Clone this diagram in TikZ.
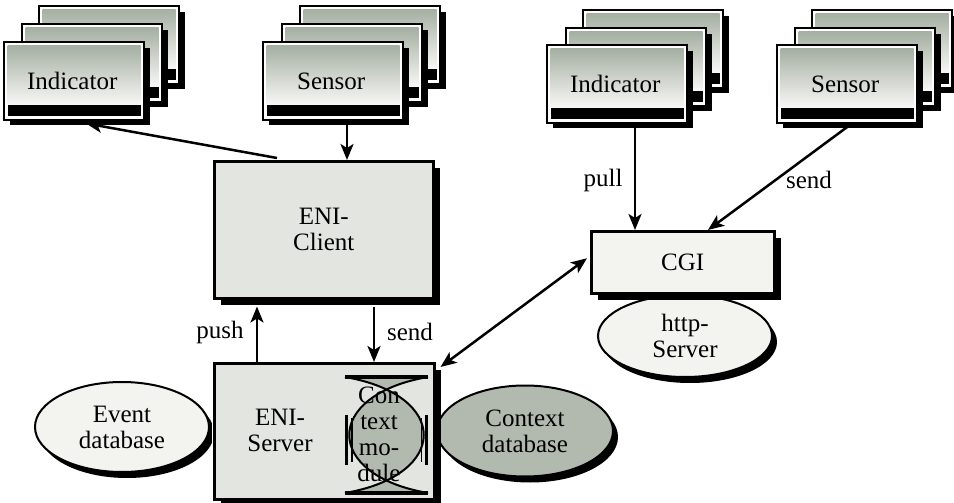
\documentclass[tikz,border=0pt]{standalone}
\usepackage{fontspec}
\setmainfont{Liberation Serif}
\usetikzlibrary{arrows.meta,calc,shapes.geometric,shadows}
\definecolor{boxgray}{HTML}{E3E5E0}
\definecolor{paleg}{HTML}{F3F4EF}
\definecolor{ctxg}{HTML}{B2BAB0}
\definecolor{cardtop}{HTML}{A5AFA2}
\definecolor{cardbot}{HTML}{F8F8F6}
\newcommand\cardshape[2]{%
  \fill[black] (#1+6,#2+6) rectangle (#1+146,#2+83);
  \filldraw[fill=white,draw=black,line width=1.8] (#1,#2) rectangle (#1+140,#2+78);
  \shade[top color=cardtop,bottom color=cardbot] (#1+3.5,#2+3.5) rectangle (#1+136.5,#2+63);
  \fill[black] (#1+3.5,#2+63) rectangle (#1+136.5,#2+74);
}
\begin{document}
\begin{tikzpicture}[x=1pt,y=-1pt,
  txt/.style={font=\fontsize{25}{26}\selectfont, align=center, inner sep=0pt},
  cardnode/.style={txt, anchor=north west, minimum width=136, minimum height=78},
  boxnode/.style={txt, anchor=north west, draw=black, line width=2.5, fill=boxgray,
    drop shadow={shadow xshift=7pt,shadow yshift=-7pt,fill=black,opacity=1},
    preaction={draw=white,line width=4}},
  ellnode/.style={txt, ellipse, draw=black, line width=2,
    drop shadow={shadow xshift=5pt,shadow yshift=-6pt,fill=black,opacity=1}},
  lbl/.style={txt},
  arr/.style={line width=2.5, -{Stealth[length=16,width=13,inset=4]}},
  darr/.style={line width=2.5, {Stealth[length=16,width=13,inset=4]}-{Stealth[length=16,width=13,inset=4]}},
]
\useasboundingbox (0,0) rectangle (954,503);
\clip (0,0) rectangle (954,503);

% left indicator stack
\cardshape{39}{6}\cardshape{22}{24}\cardshape{4}{42}
\node[cardnode] (indLc) at (4,42) {Indicator};
% left sensor stack
\cardshape{300}{6}\cardshape{282}{24}\cardshape{263}{42}
\node[cardnode] (senLc) at (263,42) {Sensor};
% right indicator stack
\cardshape{583}{10}\cardshape{566}{28}\cardshape{547}{45}
\node[cardnode] (indRc) at (547,45) {Indicator};
% right sensor stack
\cardshape{812}{10}\cardshape{795}{28}\cardshape{777}{45}
\node[cardnode] (senRc) at (777,45) {Sensor};

% ENI-Client
\node[boxnode, minimum width=219, minimum height=137] (client) at (213,160) {ENI-\\Client};

% ellipses
\node[ellnode, fill=paleg, minimum width=174, minimum height=90] (eventdb) at (122,427) {Event\\database};
\node[ellnode, fill=ctxg, minimum width=176, minimum height=91] (ctxdb) at (525,431) {Context\\database};
\node[ellnode, fill=paleg, minimum width=174, minimum height=82] (http) at (685,336) {http-\\Server};

% CGI
\node[boxnode, fill=paleg, minimum width=183, minimum height=62] (cgi) at (590,230) {CGI};

% ENI-Server
\node[boxnode, minimum width=220, minimum height=136] (server) at (213,362) {};
\node[txt] (servertxt) at (280,430) {ENI-\\Server};

% context module
\fill[ctxg] (345,377) .. controls (450,395) and (450,475) .. (345,493)
  -- (428,493) .. controls (323,475) and (323,395) .. (428,377) -- cycle;
\draw[line width=2] (345,377) .. controls (450,395) and (450,475) .. (345,493);
\draw[line width=2] (428,377) .. controls (323,395) and (323,475) .. (428,493);
\draw[line width=3.5] (345,377) -- (428,377);
\draw[line width=3.5] (345,493) -- (428,493);
\draw[line width=3] (346.5,415) -- (346.5,465);
\draw[line width=1.5] (352,418) -- (352,462);
\draw[line width=3] (426.5,415) -- (426.5,465);
\draw[line width=1.5] (421.5,418) -- (421.5,462);
\node[txt] (ctxmod) at (379,434) {Con\\text\\mo-\\dule};

% labels
\node[lbl] (lpush) at (220,332) {push};
\node[lbl] (lsend) at (410,332) {send};
\node[lbl] (lpull) at (603,180) {pull};
\node[lbl] (lsend2) at (809,180) {send};

% connectors
\draw[arr] ($(senLc.south west)+(84,4)$) -- ($(client.north west)+(134,0)$);
\draw[arr] ($(client.north west)+(64,-2)$) -- ($(indLc.south west)+(82,3)$);
\draw[arr] ($(server.north west)+(44,0)$) -- ($(client.south west)+(44,7)$);
\draw[arr] ($(client.south west)+(161,7)$) -- ($(server.north west)+(161,0)$);
\draw[arr] ($(indRc.south west)+(88,4)$) -- ($(cgi.north west)+(45,0)$);
\draw[arr] ($(senRc.south west)+(71,3)$) -- ($(cgi.north west)+(118,0)$);
\draw[darr] ($(server.north east)+(5,5)$) -- ($(cgi.west)+(-3,-4)$);
\end{tikzpicture}
\end{document}
